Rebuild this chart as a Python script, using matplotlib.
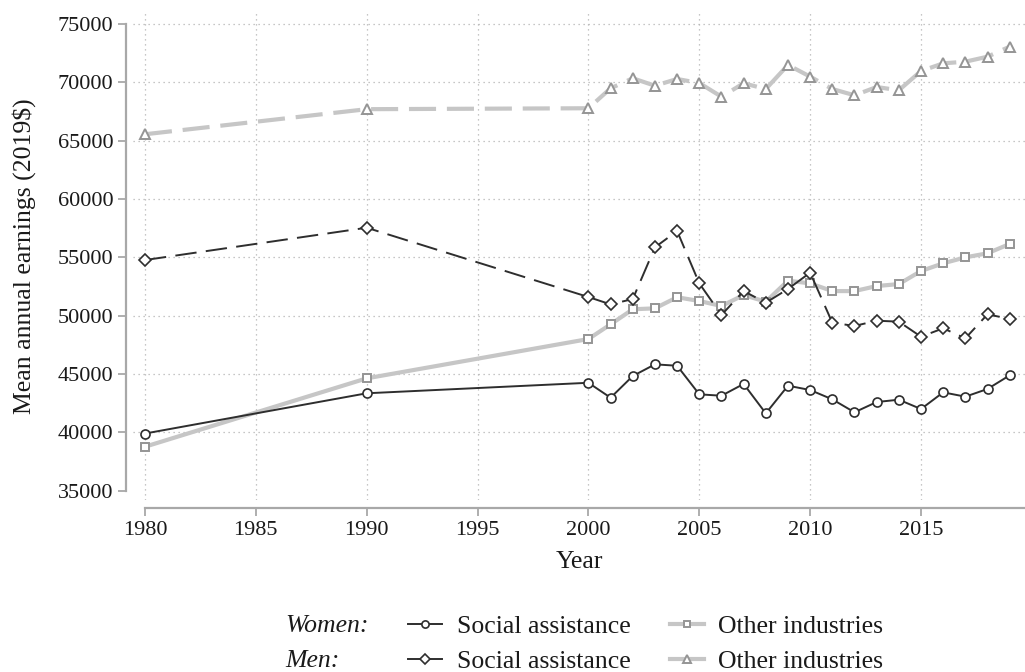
import matplotlib
matplotlib.use("Agg")
import matplotlib.pyplot as plt
from matplotlib.lines import Line2D

plt.rcParams['font.family'] = ['Liberation Serif', 'DejaVu Serif']

years = [1980, 1990, 2000, 2001, 2002, 2003, 2004, 2005, 2006, 2007, 2008,
         2009, 2010, 2011, 2012, 2013, 2014, 2015, 2016, 2017, 2018, 2019]

women_social = [39900, 43350, 44250, 42970, 44830, 45830, 45710, 43260, 43140,
                44150, 41630, 44000, 43630, 42830, 41720, 42600, 42800, 42000,
                43430, 43060, 43720, 44890]
women_other = [38770, 44630, 48000, 49260, 50550, 50630, 51580, 51260, 50830,
               51770, 51200, 53000, 52770, 52110, 52110, 52540, 52710, 53830,
               54490, 55000, 55350, 56150]
men_social = [54770, 57540, 51600, 50970, 51430, 55860, 57260, 52770, 50060,
              52110, 51110, 52290, 53690, 49400, 49120, 49570, 49490, 48200,
              48920, 48060, 50120, 49720]
men_other = [65550, 67700, 67780, 69490, 70350, 69710, 70290, 69940, 68770,
             69920, 69430, 71490, 70490, 69430, 68890, 69600, 69320, 70970,
             71630, 71770, 72200, 73060]

x_ticks = [1980, 1985, 1990, 1995, 2000, 2005, 2010, 2015]
y_ticks = [35000, 40000, 45000, 50000, 55000, 60000, 65000, 70000, 75000]

series_labels = ['Social assistance', 'Other industries']
group_labels = ['Women:', 'Men:']

DARK = '#2e2e2e'
LIGHT = '#c6c6c6'
LIGHT_EDGE = '#959595'
AXIS = '#a8a8a8'
TEXT = '#1a1a1a'

W, H = 1025, 672
fig = plt.figure(figsize=(W / 100, H / 100), dpi=100)
ax = fig.add_axes([133 / W, 1 - 500 / H, (1025 - 133) / W, (500 - 12) / H])

ax.set_xlim(1979.46, 2019.69)
ax.set_ylim(34203, 76030)

# dotted grid; the bottom y extreme gets no grid line
for yv in y_ticks[1:]:
    ax.axhline(yv, color='#b4b4b4', lw=0.9, ls=(0, (1, 3)), zorder=0)
for xv in x_ticks:
    ax.axvline(xv, color='#b4b4b4', lw=0.9, ls=(0, (1, 3)), zorder=0)

styles = {
    'ws': dict(color=DARK, lw=1.4, ls='-', marker='o', ms=6.5, mec=DARK, mew=1.2),
    'wo': dict(color=LIGHT, lw=3.0, ls='-', marker='s', ms=6, mec=LIGHT_EDGE, mew=1.4),
    'ms': dict(color=DARK, lw=1.4, ls=(0, (11, 4.8)), marker='D', ms=6.3, mec=DARK, mew=1.2),
    'mo': dict(color=LIGHT, lw=3.0, ls=(0, (6.5, 2.6)), marker='^', ms=7.5, mec=LIGHT_EDGE, mew=1.4),
}

ax.plot(years, men_other, mfc='white', zorder=2, **styles['mo'])
ax.plot(years, women_other, mfc='white', zorder=3, **styles['wo'])
ax.plot(years, women_social, mfc='white', zorder=4, **styles['ws'])
ax.plot(years, men_social, mfc='white', zorder=5, **styles['ms'])

for side in ('top', 'right'):
    ax.spines[side].set_visible(False)
ax.spines['left'].set_position(('outward', 5))
ax.spines['bottom'].set_position(('outward', 6))
ax.spines['left'].set_bounds(35000, 75000)
ax.spines['bottom'].set_bounds(1980, 2019.69)
for side in ('left', 'bottom'):
    ax.spines[side].set_color(AXIS)
    ax.spines[side].set_linewidth(1.6)

ax.set_xticks(x_ticks)
ax.set_yticks(y_ticks)
ax.set_yticklabels([str(v) for v in y_ticks])
ax.tick_params(axis='both', colors=AXIS, length=6, width=1.3, labelsize=16,
               labelcolor=TEXT, pad=3)

ax.set_xlabel('Year', fontsize=18.5, color=TEXT, labelpad=8)
ax.set_ylabel('Mean annual earnings (2019$)', fontsize=18.5, color=TEXT,
              labelpad=16)

# legend keys: short solid segments with a small hollow marker
def key(name):
    s = dict(styles[name])
    s['ls'] = '-'
    s['ms'] = s['ms'] * 0.8
    return Line2D([], [], mfc='white', **s)

handles = [key('ws'), key('ms'), key('wo'), key('mo')]
labels = [series_labels[0], series_labels[0], series_labels[1], series_labels[1]]
leg = fig.legend(handles, labels, ncol=2, frameon=False,
                 loc='center left', bbox_to_anchor=(408 / W, 1 - 644 / H),
                 borderpad=0, borderaxespad=0, handlelength=1.32,
                 handletextpad=0.58, columnspacing=1.52, labelspacing=0.45,
                 fontsize=18.5)
for t in leg.get_texts():
    t.set_color(TEXT)

for label, ypix in zip(group_labels, (626, 661)):
    fig.text(285 / W, 1 - ypix / H, label, ha='left', va='center',
             fontsize=18.5, style='italic', color=TEXT)

fig.savefig('out.png', dpi=100)
